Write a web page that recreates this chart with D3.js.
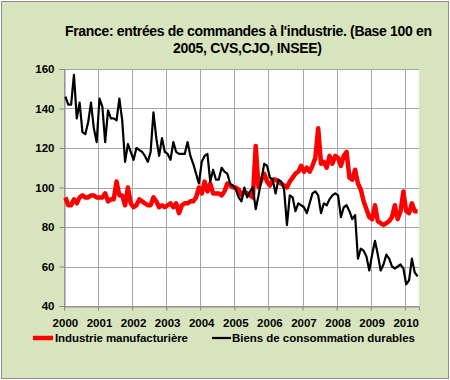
<!DOCTYPE html>
<html><head><meta charset="utf-8">
<script src="https://cdn.jsdelivr.net/npm/d3@7"></script>
<style>
body{margin:0;background:#fff}
svg{display:block}
text{font-family:"Liberation Sans",Arial,sans-serif;font-weight:bold;fill:#000}
</style>
</head><body>
<svg id="c" width="450" height="380"></svg>
<script>
// ---- data (monthly, Jan 2000 .. May 2010) ----
const years = ["2000","2001","2002","2003","2004","2005","2006","2007","2008","2009","2010"];
const yTicks = [40,60,80,100,120,140,160];
const titleLines = ["France: entrées de commandes à l'industrie. (Base 100 en", "2005, CVS,CJO, INSEE)"];
const seriesNames = ["Industrie manufacturière", "Biens de consommation durables"];
const industrie = [
  95,91,91,94,92,95,96,95,95,96,96,95,
  95,95,97,93,94,94,103,96,96,91,100,92,
  90,91,94,93,92,91,91,95,93,90,91,90,
  91,92,90,92,87,91,92,92,93,93,95,100,
  97,103,98,102,97,97,97,96,98,102,101,100,
  100,99,96,98,97,96,95,121,100,104,107,103,
  101,104,104,103,102,101,100,103,105,107,108,111,
  108,110,108,111,115,130,112,113,110,116,112,116,
  115,111,116,118,105,104,109,102,99,93,89,85,
  84,91,83,82,81,82,83,85,91,84,88,98,
  88,87,92,88,88
];
const biens = [
  146,142,142,157,135,143,128,127,133,143,130,123,
  145,141,123,139,135,135,134,145,134,113,122,118,
  114,120,119,118,116,113,118,138,125,116,125,118,
  117,114,123,118,117,117,117,123,116,112,107,102,
  113,116,117,103,109,104,104,110,108,107,102,101,
  99,95,93,100,95,98,100,89,96,104,112,111,
  105,104,97,104,103,99,81,96,95,88,92,91,
  90,87,92,97,98,96,87,92,91,94,96,97,
  96,85,90,91,88,84,86,64,69,68,65,58,
  66,73,66,58,61,66,64,60,59,60,61,59,
  51,53,64,57,55
];

// ---- drawing ----
const svg = d3.select("#c");
svg.append("rect").attr("x",1.5).attr("y",1.5).attr("width",447).attr("height",377)
  .attr("fill","#D7E4BD").attr("stroke","#8E8E8E").attr("stroke-width",1);

const P = {l:64, r:419, t:69, b:306};
const n = industrie.length;
const x = d3.scaleLinear().domain([0,n]).range([P.l,P.r]);
const y = d3.scaleLinear().domain([40,160]).range([P.b,P.t]);

svg.append("rect").attr("x",P.l).attr("y",P.t).attr("width",P.r-P.l).attr("height",P.b-P.t).attr("fill","#fff");

const gridColor = "#A6A6A6";
const yearIdx = years.map((_,k)=>12*k);

// horizontal grid
svg.append("g").selectAll("line").data(yTicks).join("line")
  .attr("x1",P.l).attr("x2",P.r)
  .attr("y1",d=>Math.round(y(d))+0.5).attr("y2",d=>Math.round(y(d))+0.5)
  .attr("stroke",gridColor).attr("stroke-width",1);
// vertical grid
svg.append("g").selectAll("line").data(yearIdx).join("line")
  .attr("x1",d=>Math.round(x(d))+0.5).attr("x2",d=>Math.round(x(d))+0.5)
  .attr("y1",P.t).attr("y2",P.b)
  .attr("stroke",gridColor).attr("stroke-width",1);

// y axis
const yAxis = svg.append("g").attr("transform",`translate(${P.l+0.5},0)`)
  .call(d3.axisLeft(y).tickValues(yTicks).tickSize(5).tickPadding(5).tickFormat(d3.format("d")));
yAxis.select(".domain").attr("stroke","#868686");
yAxis.selectAll(".tick line").attr("stroke","#868686");
yAxis.selectAll("text").style("font-size","11.5px").style("font-family",'"Liberation Sans",Arial,sans-serif').style("font-weight","bold").attr("fill","#000");

// x axis (ticks at year boundaries, labels on January points)
const xAxis = svg.append("g").attr("transform",`translate(0,${P.b+0.5})`)
  .call(d3.axisBottom(x).tickValues(yearIdx).tickSize(4).tickFormat(""));
xAxis.select(".domain").attr("stroke","#868686");
xAxis.selectAll(".tick line").attr("stroke","#868686");
svg.append("g").selectAll("text").data(years).join("text")
  .attr("x",(d,k)=>x(12*k+0.5)).attr("y",327)
  .attr("text-anchor","middle").style("font-size","11.5px").text(d=>d);

// lines
const line = d3.line().x((d,i)=>x(i+0.5)).y(d=>y(d));
svg.append("path").datum(industrie).attr("d",line).attr("fill","none")
  .attr("stroke","#FF0000").attr("stroke-width",4.5).attr("stroke-linejoin","round");
svg.append("path").datum(biens).attr("d",line).attr("fill","none")
  .attr("stroke","#000").attr("stroke-width",2.2).attr("stroke-linejoin","round");

// title
const tl = [{t:titleLines[0],cx:248.5,y:36,w:367},{t:titleLines[1],cx:247.5,y:53,w:149}];
svg.append("g").selectAll("text").data(tl).join("text")
  .attr("x",d=>d.cx).attr("y",d=>d.y).attr("text-anchor","middle")
  .style("font-size","14px").attr("textLength",d=>d.w).attr("lengthAdjust","spacing")
  .text(d=>d.t);

// legend
const lg = svg.append("g");
lg.append("line").attr("x1",33).attr("x2",53).attr("y1",338).attr("y2",338)
  .attr("stroke","#FF0000").attr("stroke-width",4.5);
lg.append("text").attr("x",55).attr("y",342).style("font-size","11.5px")
  .attr("textLength",133).attr("lengthAdjust","spacing").text(seriesNames[0]);
lg.append("line").attr("x1",212).attr("x2",231).attr("y1",338).attr("y2",338)
  .attr("stroke","#000").attr("stroke-width",2.2);
lg.append("text").attr("x",232).attr("y",342).style("font-size","11.5px")
  .attr("textLength",183).attr("lengthAdjust","spacing").text(seriesNames[1]);
</script>
</body></html>
